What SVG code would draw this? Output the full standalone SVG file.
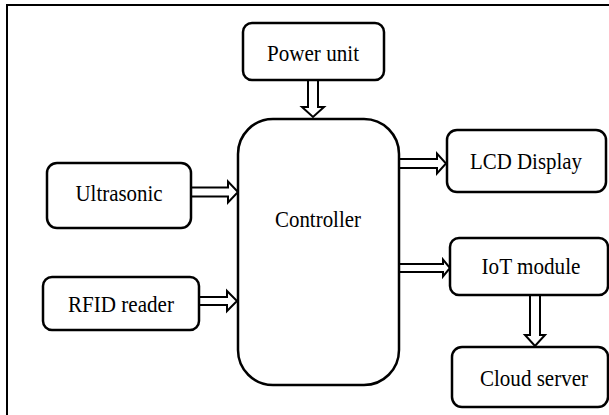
<svg xmlns="http://www.w3.org/2000/svg" width="609" height="415" viewBox="0 0 609 415">
<style>
.box{fill:#fff;stroke:#000;stroke-width:2.5}
.arr{fill:#fff;stroke:#000;stroke-width:2;stroke-linejoin:miter}
.lbl{font-size:23px;fill:#000;text-anchor:middle}
</style>
<rect x="0" y="0" width="609" height="415" fill="#fff"/>
<rect x="7" y="5" width="620" height="430" fill="none" stroke="#000" stroke-width="2"/>
<g id="connectors">
<polygon class="arr" points="308,80 318,80 318,107 324,107 313,117 302,107 308,107"/>
<polygon class="arr" points="191,187.5 228,187.5 228,181.5 238,192 228,202.5 228,196.5 191,196.5"/>
<polygon class="arr" points="199,297 227,297 227,291 237,301 227,311 227,305 199,305"/>
<polygon class="arr" points="399,159 437,159 437,153.5 446,163.5 437,173.5 437,168 399,168"/>
<polygon class="arr" points="399,264 443,264 443,259.5 450,268 443,276.5 443,272 399,272"/>
<polygon class="arr" points="530,295 540,295 540,335 545,335 535,346 525,335 530,335"/>
</g>
<g font-family="'Liberation Serif', 'Times New Roman', 'DejaVu Serif', serif">
<g id="power"><rect class="box" x="243" y="23" width="141" height="57" rx="9"/><text class="lbl" x="313" y="61" textLength="92" lengthAdjust="spacingAndGlyphs">Power unit</text></g>
<g id="controller"><rect class="box" x="238" y="119" width="161" height="266" rx="35"/><text class="lbl" x="318" y="227" textLength="86" lengthAdjust="spacingAndGlyphs">Controller</text></g>
<g id="ultrasonic"><rect class="box" x="47" y="163" width="144" height="65" rx="10"/><text class="lbl" x="119" y="201" textLength="87" lengthAdjust="spacingAndGlyphs">Ultrasonic</text></g>
<g id="rfid"><rect class="box" x="43" y="277" width="156" height="53" rx="9"/><text class="lbl" x="121" y="312" textLength="106" lengthAdjust="spacingAndGlyphs">RFID reader</text></g>
<g id="lcd"><rect class="box" x="447" y="130" width="159" height="62" rx="10"/><text class="lbl" x="526" y="169" textLength="112" lengthAdjust="spacingAndGlyphs">LCD Display</text></g>
<g id="iot"><rect class="box" x="450" y="238" width="158" height="57" rx="9"/><text class="lbl" x="531" y="274" textLength="99" lengthAdjust="spacingAndGlyphs">IoT module</text></g>
<g id="cloud"><rect class="box" x="452" y="347" width="156" height="60" rx="10"/><text class="lbl" x="534" y="386" textLength="108" lengthAdjust="spacingAndGlyphs">Cloud server</text></g>
</g>
</svg>
